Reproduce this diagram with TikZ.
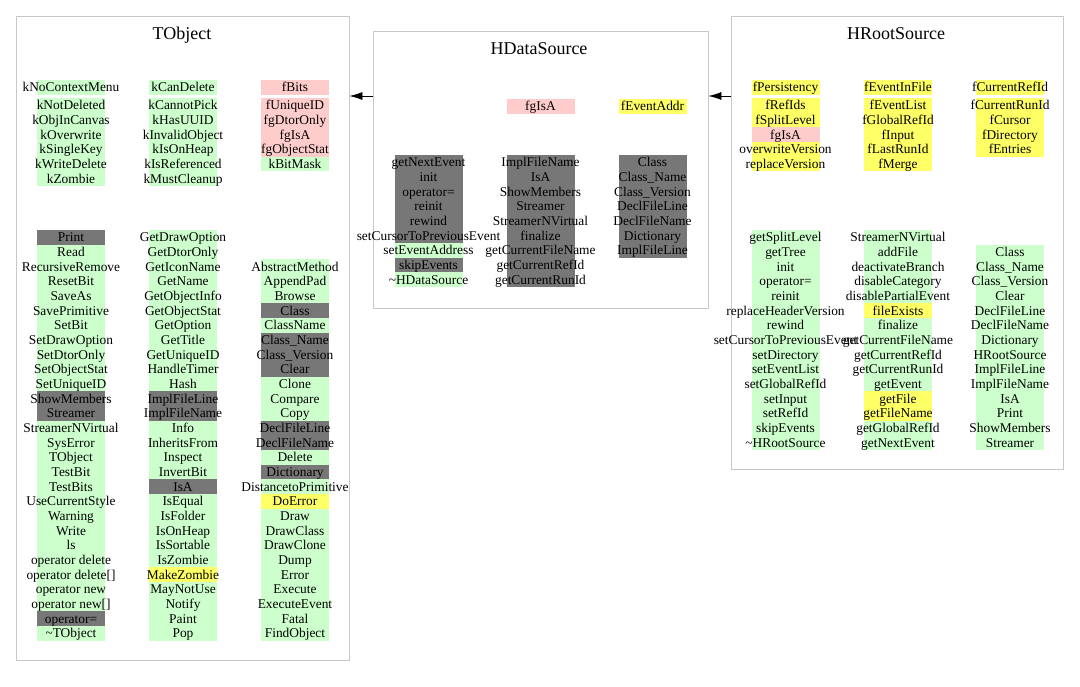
\documentclass[tikz,border=0pt]{standalone}
\usepackage{fontspec}
\setmainfont{Liberation Serif}
\usetikzlibrary{positioning}
\usetikzlibrary{arrows.meta}

\definecolor{gr}{HTML}{CCFFCC}
\definecolor{dk}{HTML}{777777}
\definecolor{pk}{HTML}{FFCCCC}
\definecolor{ye}{HTML}{FFFF66}
\definecolor{boxgray}{HTML}{C8C8C8}

\tikzset{
  cell/.style={inner sep=0pt, minimum width=68pt, minimum height=14.67pt,
    text height=10.7pt, text depth=2pt, font=\fontsize{13.4}{14}\selectfont},
  classbox/.style={draw=boxgray, line width=0.8pt, inner sep=0pt},
  classtitle/.style={font=\fontsize{18}{20}\selectfont},
  inherit/.style={-{Latex[length=13pt,width=8pt]}, line width=0.8pt}
}

% one column of table cells, #1 name, #2 x, #3 top y, #4 text/colour list
\newcommand{\cellcolumn}[4]{%
  \foreach \txt/\clr [count=\i from 0] in {#4}{%
    \node[cell, fill=\clr] (#1-\i) at ({#2},{#3+7.33+\i*14.67}) {\makebox[0pt]{\txt}};
  }%
}

\begin{document}
\begin{tikzpicture}[x=1pt, y=-1pt]
\useasboundingbox (0,0) rectangle (1080,687);

% class boxes
\node[classbox, minimum width=333pt, minimum height=644pt] (tobject) at (182.5,338) {};
\node[classbox, minimum width=335pt, minimum height=277pt] (hdatasource) at (540.5,169.5) {};
\node[classbox, minimum width=332pt, minimum height=453pt] (hrootsource) at (897,242.5) {};
\node[classtitle] (tobject-title) at (182,35) {TObject};
\node[classtitle] (hdatasource-title) at (539,49) {HDataSource};
\node[classtitle] (hrootsource-title) at (896,34) {HRootSource};

% TObject
\cellcolumn{to-h1}{71}{80}{kNoContextMenu/gr}
\cellcolumn{to-h2}{183}{80}{kCanDelete/gr}
\cellcolumn{to-h3}{295}{80}{fBits/pk}
\cellcolumn{to-d1}{71}{98}{kNotDeleted/gr, kObjInCanvas/gr, kOverwrite/gr, kSingleKey/gr, kWriteDelete/gr, kZombie/gr}
\cellcolumn{to-d2}{183}{98}{kCannotPick/gr, kHasUUID/gr, kInvalidObject/gr, kIsOnHeap/gr, kIsReferenced/gr, kMustCleanup/gr}
\cellcolumn{to-d3}{295}{98}{fUniqueID/pk, fgDtorOnly/pk, fgIsA/pk, fgObjectStat/pk, kBitMask/gr}
\cellcolumn{to-m1}{71}{230}{Print/dk, Read/gr, RecursiveRemove/gr, ResetBit/gr, SaveAs/gr, SavePrimitive/gr, SetBit/gr, SetDrawOption/gr, SetDtorOnly/gr, SetObjectStat/gr, SetUniqueID/gr, ShowMembers/dk, Streamer/dk, StreamerNVirtual/gr, SysError/gr, TObject/gr, TestBit/gr, TestBits/gr, UseCurrentStyle/gr, Warning/gr, Write/gr, ls/gr, operator delete/gr, operator delete[]/gr, operator new/gr, operator new[]/gr, operator=/dk, \textasciitilde TObject/gr}
\cellcolumn{to-m2}{183}{230}{GetDrawOption/gr, GetDtorOnly/gr, GetIconName/gr, GetName/gr, GetObjectInfo/gr, GetObjectStat/gr, GetOption/gr, GetTitle/gr, GetUniqueID/gr, HandleTimer/gr, Hash/gr, ImplFileLine/dk, ImplFileName/dk, Info/gr, InheritsFrom/gr, Inspect/gr, InvertBit/gr, IsA/dk, IsEqual/gr, IsFolder/gr, IsOnHeap/gr, IsSortable/gr, IsZombie/gr, MakeZombie/ye, MayNotUse/gr, Notify/gr, Paint/gr, Pop/gr}
\cellcolumn{to-m3}{295}{259.33}{AbstractMethod/gr, AppendPad/gr, Browse/gr, Class/dk, ClassName/gr, Class\_Name/dk, Class\_Version/dk, Clear/dk, Clone/gr, Compare/gr, Copy/gr, DeclFileLine/dk, DeclFileName/dk, Delete/gr, Dictionary/dk, DistancetoPrimitive/gr, DoError/ye, Draw/gr, DrawClass/gr, DrawClone/gr, Dump/gr, Error/gr, Execute/gr, ExecuteEvent/gr, Fatal/gr, FindObject/gr}

% HDataSource
\cellcolumn{hd-h2}{540.5}{99}{fgIsA/pk}
\cellcolumn{hd-h3}{652.5}{99}{fEventAddr/ye}
\cellcolumn{hd-m1}{428.5}{155}{getNextEvent/dk, init/dk, operator=/dk, reinit/dk, rewind/dk, setCursorToPreviousEvent/dk, setEventAddress/gr, skipEvents/dk, \textasciitilde HDataSource/gr}
\cellcolumn{hd-m2}{540.5}{155}{ImplFileName/dk, IsA/dk, ShowMembers/dk, Streamer/dk, StreamerNVirtual/dk, finalize/dk, getCurrentFileName/dk, getCurrentRefId/dk, getCurrentRunId/dk}
\cellcolumn{hd-m3}{652.5}{155}{Class/dk, Class\_Name/dk, Class\_Version/dk, DeclFileLine/dk, DeclFileName/dk, Dictionary/dk, ImplFileLine/dk}

% HRootSource
\cellcolumn{hr-h1}{785.5}{80}{fPersistency/ye}
\cellcolumn{hr-h2}{898}{80}{fEventInFile/ye}
\cellcolumn{hr-h3}{1010}{80}{fCurrentRefId/ye}
\cellcolumn{hr-d1}{785.5}{98}{fRefIds/ye, fSplitLevel/ye, fgIsA/pk, overwriteVersion/ye, replaceVersion/ye}
\cellcolumn{hr-d2}{898}{98}{fEventList/ye, fGlobalRefId/ye, fInput/ye, fLastRunId/ye, fMerge/ye}
\cellcolumn{hr-d3}{1010}{98}{fCurrentRunId/ye, fCursor/ye, fDirectory/ye, fEntries/ye}
\cellcolumn{hr-m1}{785.5}{230}{getSplitLevel/gr, getTree/gr, init/gr, operator=/gr, reinit/gr, replaceHeaderVersion/gr, rewind/gr, setCursorToPreviousEvent/gr, setDirectory/gr, setEventList/gr, setGlobalRefId/gr, setInput/gr, setRefId/gr, skipEvents/gr, \textasciitilde HRootSource/gr}
\cellcolumn{hr-m2}{898}{230}{StreamerNVirtual/gr, addFile/gr, deactivateBranch/gr, disableCategory/gr, disablePartialEvent/gr, fileExists/ye, finalize/gr, getCurrentFileName/gr, getCurrentRefId/gr, getCurrentRunId/gr, getEvent/gr, getFile/ye, getFileName/ye, getGlobalRefId/gr, getNextEvent/gr}
\cellcolumn{hr-m3}{1010}{244.67}{Class/gr, Class\_Name/gr, Class\_Version/gr, Clear/gr, DeclFileLine/gr, DeclFileName/gr, Dictionary/gr, HRootSource/gr, ImplFileLine/gr, ImplFileName/gr, IsA/gr, Print/gr, ShowMembers/gr, Streamer/gr}

% inheritance
\coordinate (link) at (0,96);
\draw[inherit] (hdatasource.west |- link) -- (tobject.east |- link);
\draw[inherit] (hrootsource.west |- link) -- (hdatasource.east |- link);
\end{tikzpicture}
\end{document}
